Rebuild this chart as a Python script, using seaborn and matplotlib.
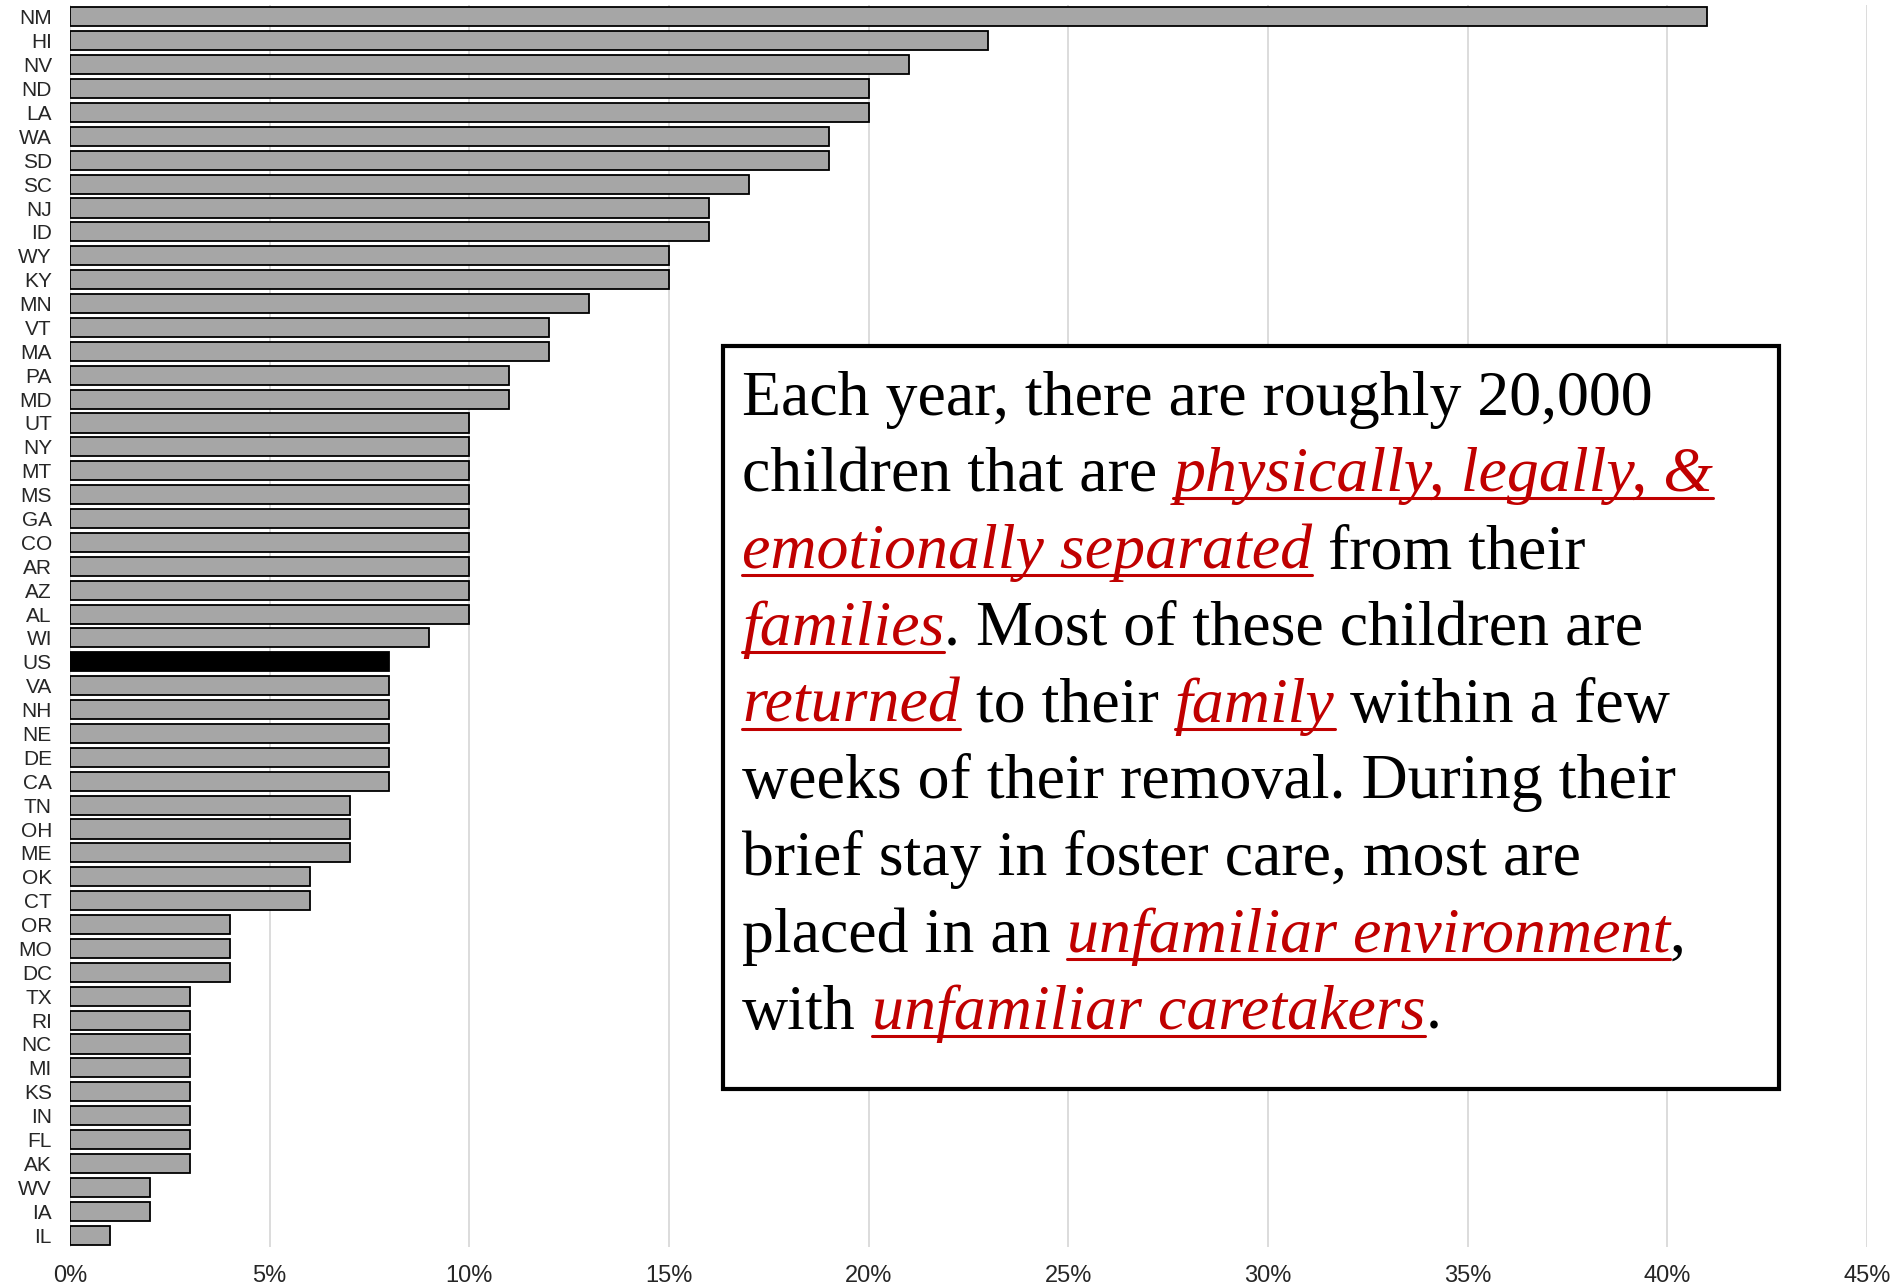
import matplotlib
matplotlib.use("Agg")
import matplotlib.pyplot as plt
import seaborn as sns
import pandas as pd
from matplotlib.patches import Rectangle
from matplotlib.lines import Line2D
from matplotlib.ticker import PercentFormatter

states = ["NM", "HI", "NV", "ND", "LA", "WA", "SD", "SC", "NJ", "ID",
          "WY", "KY", "MN", "VT", "MA", "PA", "MD", "UT", "NY", "MT",
          "MS", "GA", "CO", "AR", "AZ", "AL", "WI", "US", "VA", "NH",
          "NE", "DE", "CA", "TN", "OH", "ME", "OK", "CT", "OR", "MO",
          "DC", "TX", "RI", "NC", "MI", "KS", "IN", "FL", "AK", "WV",
          "IA", "IL"]
values = [41, 23, 21, 20, 20, 19, 19, 17, 16, 16,
          15, 15, 13, 12, 12, 11, 11, 10, 10, 10,
          10, 10, 10, 10, 10, 10, 9, 8, 8, 8,
          8, 8, 8, 7, 7, 7, 6, 6, 4, 4,
          4, 3, 3, 3, 3, 3, 3, 3, 3, 2,
          2, 1]
x_ticks = [0, 5, 10, 15, 20, 25, 30, 35, 40, 45]

text_lines = [
    [("Each year, there are roughly 20,000", False)],
    [("children that are ", False), ("physically, legally, &", True)],
    [("emotionally separated", True), (" from their", False)],
    [("families", True), (". Most of these children are", False)],
    [("returned", True), (" to their ", False), ("family", True), (" within a few", False)],
    [("weeks of their removal. During their", False)],
    [("brief stay in foster care, most are", False)],
    [("placed in an ", False), ("unfamiliar environment", True), (",", False)],
    [("with ", False), ("unfamiliar caretakers", True), (".", False)],
]

sns.set_style("white")
plt.rcParams["font.family"] = ["Liberation Sans", "DejaVu Sans"]

W, H = 1895, 1287
fig = plt.figure(figsize=(W / 100, H / 100), dpi=100)
ax = fig.add_axes([70 / W, 1 - 1247 / H, (1867 - 70) / W, (1247 - 5) / H])

df = pd.DataFrame({"state": states, "value": values})
colors = ["#000000" if s == "US" else "#a6a6a6" for s in states]
sns.barplot(data=df, x="value", y="state", hue="state", palette=colors,
            legend=False, orient="h", width=0.8, edgecolor="black",
            linewidth=1.3, ax=ax, zorder=3)

ax.set_xlim(0, 45)
ax.set_xticks(x_ticks)
ax.xaxis.set_major_formatter(PercentFormatter(decimals=0))
ax.grid(axis="x", color="#d9d9d9", linewidth=1.3, zorder=0)
ax.grid(axis="y", visible=False)
ax.set_axisbelow(True)
for sp in ax.spines.values():
    sp.set_visible(False)
ax.set_xlabel("")
ax.set_ylabel("")
ax.tick_params(axis="x", length=0, pad=13, labelsize=17)
ax.tick_params(axis="y", length=0, pad=13, labelsize=15)

# Text box
bx0, by0, bx1, by1 = 723, 346, 1779, 1089
rect = Rectangle((bx0 / W, 1 - by1 / H), (bx1 - bx0) / W, (by1 - by0) / H,
                 transform=fig.transFigure, facecolor="white",
                 edgecolor="black", linewidth=3, zorder=10)
fig.patches.append(rect)

red = "#c00000"
fs = 46
renderer = fig.canvas.get_renderer()


def seg_width(s, italic):
    style = "italic" if italic else "normal"
    t1 = fig.text(0, 0, "x" + s + "x", fontsize=fs, family="Liberation Serif", style=style)
    t2 = fig.text(0, 0, "xx", fontsize=fs, family="Liberation Serif", style=style)
    w = t1.get_window_extent(renderer).width - t2.get_window_extent(renderer).width
    t1.remove()
    t2.remove()
    return w


x_left = 742
base0 = 414.5
dy = 76.8
for i, line in enumerate(text_lines):
    y = base0 + i * dy
    x = x_left
    for s, hl in line:
        w = seg_width(s, hl)
        lead = len(s) - len(s.lstrip(" "))
        core = s.strip(" ")
        xs = x + (seg_width(" " * lead, hl) if lead else 0)
        fig.text(xs / W, 1 - y / H, core, fontsize=fs, family="Liberation Serif",
                 style="italic" if hl else "normal", color=red if hl else "black",
                 va="baseline", ha="left", zorder=11)
        if hl:
            cw = seg_width(core, hl)
            fig.lines.append(Line2D([xs / W, (xs + cw) / W],
                                    [1 - (y + 7) / H, 1 - (y + 7) / H],
                                    transform=fig.transFigure, color=red,
                                    linewidth=2.2, zorder=11))
        x += w

fig.savefig("out.png", dpi=100)
